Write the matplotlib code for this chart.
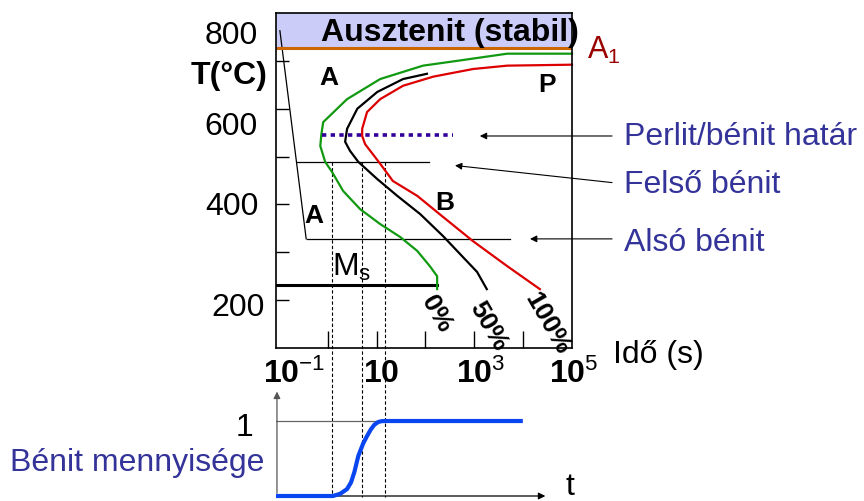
import numpy as np
import matplotlib
matplotlib.use("Agg")
from matplotlib import pyplot as plt
from matplotlib.ticker import NullLocator

plt.rcParams['font.family'] = ['Liberation Sans', 'DejaVu Sans']
plt.rcParams['mathtext.fontset'] = 'custom'
plt.rcParams['mathtext.rm'] = 'Liberation Sans'
plt.rcParams['mathtext.bf'] = 'Liberation Sans:bold'
plt.rcParams['mathtext.it'] = 'Liberation Sans:italic'

# curves: log10(time / s), temperature in C
lt_0 = [5.01, 3.68, 2.65, 1.95, 1.07, 0.39, -0.10, -0.14, -0.16, -0.06, 0.08, 0.31, 0.66, 1.07, 1.48, 1.83, 2.09, 2.24, 2.24]
T_0 = [715, 715, 700, 690, 662, 620, 572, 545, 522, 489, 468, 428, 390, 359, 332, 303, 271, 250, 223]
lt_50 = [2.03, 1.54, 1.01, 0.60, 0.39, 0.35, 0.45, 0.62, 1.01, 1.42, 1.89, 2.36, 2.77, 3.06, 3.26]
T_50 = [673, 662, 635, 600, 558, 531, 512, 489, 453, 418, 380, 334, 290, 259, 223]
lt_100 = [5.01, 3.68, 2.98, 2.16, 1.54, 1.07, 0.80, 0.70, 0.70, 0.76, 1.07, 1.33, 1.83, 2.36, 2.98, 3.68, 4.35]
T_100 = [692, 690, 683, 667, 648, 620, 593, 558, 543, 526, 485, 449, 418, 374, 323, 271, 223]

T_A1 = 726
T_ms = 231
ms_end = 2.24
T_perlit = 545
perlit_lt = [-0.12, 2.57]
T_felso = 489
felso_lt = [-0.64, 2.07]
T_also = 328
also_lt = [-0.43, 3.74]
diag_lt = [-0.99, -0.45]
diag_T = [763, 328]
dash_lt = [0.08, 0.70, 1.17]

# bainite amount vs time (lower panel)
frac_lt = [-1.07, 0.10, 0.25, 0.39, 0.47, 0.54, 0.62, 0.72, 0.80, 0.88, 0.95, 1.03, 1.10, 1.17, 4.00]
frac = [0, 0, 0.03, 0.093, 0.18, 0.32, 0.533, 0.70, 0.80, 0.89, 0.95, 0.987, 0.998, 1.0, 1.0]

W, H = 864, 502
fig = plt.figure(figsize=(W / 100, H / 100), dpi=100)

def ftext(x, y, s, **kw):
    kw.setdefault('ha', 'center')
    kw.setdefault('va', 'center')
    fig.text(x / W, 1 - y / H, s, **kw)

ax = fig.add_axes([276 / W, 1 - 349 / H, 296 / W, 335 / H])
ax.set_xscale('log')
ax.set_xlim(10 ** -1.07, 10 ** 5.01)
ax.set_ylim(100, 800)
for s in ax.spines.values():
    s.set_linewidth(1.2)
    s.set_zorder(6)

ax.axhspan(T_A1, 800, color='#ccccf8', zorder=0)
ax.axhline(T_A1, color='#cc6600', lw=2.2, zorder=3)

p = lambda v: np.power(10.0, np.array(v))
ax.plot(p(lt_0), T_0, color='#119911', lw=1.6, zorder=4, clip_on=False)
ax.plot(p(lt_50), T_50, color='black', lw=1.6, zorder=4)
ax.plot(p(lt_100), T_100, color='#dd0000', lw=1.6, zorder=4, clip_on=False)

ax.plot(p(perlit_lt), [T_perlit] * 2, color='#330099', lw=2.6, dashes=(1.2, 1.2), zorder=5)
ax.plot(p(felso_lt), [T_felso] * 2, color='black', lw=0.9)
ax.plot(p(also_lt), [T_also] * 2, color='black', lw=0.9)
ax.plot(p(diag_lt), diag_T, color='black', lw=0.9)
ax.plot([10 ** -1.07, 10 ** ms_end], [T_ms] * 2, color='black', lw=2.2)

for d in dash_lt:
    ax.plot([10 ** d] * 2, [T_felso, -212], color='black', lw=0.8,
            dashes=(3, 2), clip_on=False, zorder=2)

arr = dict(arrowstyle='-|>', color='black', lw=0.8, mutation_scale=10)
ax.annotate('', xy=(10 ** 3.06, 543), xytext=(10 ** 5.89, 543), arrowprops=arr, annotation_clip=False)
ax.annotate('', xy=(10 ** 2.55, 482), xytext=(10 ** 5.89, 445), arrowprops=arr, annotation_clip=False)
ax.annotate('', xy=(10 ** 4.09, 328), xytext=(10 ** 5.89, 328), arrowprops=arr, annotation_clip=False)

ax.set_yticks([200, 300, 400, 500, 600, 700])
ax.set_yticklabels([])
ax.set_xticks(p([0, 1, 2, 3, 4]))
ax.set_xticklabels([])
ax.xaxis.set_minor_locator(NullLocator())
ax.tick_params(axis='y', direction='in', length=9.5, width=1)
ax.tick_params(axis='x', direction='in', length=12, width=1)

# lower panel
bx = fig.add_axes([276 / W, 2 / H, 296 / W, 110 / H], sharex=ax)
bx.set_ylim(-0.04, 1.427)
bx.axis('off')
bx.plot(p([-1.07, 1.17]), [1, 1], color='#666666', lw=0.9)
bx.plot(p(frac_lt), frac, color='#0a46f0', lw=3, solid_capstyle='butt', zorder=4)
bx.annotate('', xy=(10 ** 4.52, 0), xytext=(10 ** -1.07, 0),
            arrowprops=dict(arrowstyle='-|>', color='black', lw=0.9, mutation_scale=10))
bx.annotate('', xy=(10 ** -1.05, 1.43), xytext=(10 ** -1.05, 0),
            arrowprops=dict(arrowstyle='-|>', color='#555555', lw=0.9, mutation_scale=10),
            annotation_clip=False)

blue = '#333399'
ftext(450, 33, 'Ausztenit (stabil)', fontsize=23, fontweight='bold')
ftext(231, 36, '800', fontsize=23)
ftext(229, 76, 'T(°C)', fontsize=23, fontweight='bold')
ftext(231, 127, '600', fontsize=23)
ftext(232, 207, '400', fontsize=23)
ftext(238, 308, '200', fontsize=23)
ftext(604, 50, r'A$_1$', fontsize=22, color='#990000')
ftext(329, 78, 'A', fontsize=19, fontweight='bold')
ftext(547, 85, 'P', fontsize=19, fontweight='bold')
ftext(445, 203, 'B', fontsize=19, fontweight='bold')
ftext(314, 216, 'A', fontsize=19, fontweight='bold')
ftext(352, 267, r'M$_\mathrm{s}$', fontsize=23)
ftext(437, 314, '0%', fontsize=19, fontweight='bold', rotation=-60)
ftext(488, 326, '50%', fontsize=19, fontweight='bold', rotation=-60)
ftext(547, 324, '100%', fontsize=19, fontweight='bold', rotation=-60)

ftext(294, 374, r'$\mathbf{10}^{-1}$', fontsize=23)
ftext(381, 374, r'$\mathbf{10}$', fontsize=23)
ftext(481, 374, r'$\mathbf{10}^{3}$', fontsize=23)
ftext(574, 374, r'$\mathbf{10}^{5}$', fontsize=23)
ftext(613, 355, 'Idő (s)', fontsize=23, ha='left')

ftext(624, 137, 'Perlit/bénit határ', fontsize=23, color=blue, ha='left')
ftext(624, 185, 'Felső bénit', fontsize=23, color=blue, ha='left')
ftext(624, 243, 'Alsó bénit', fontsize=23, color=blue, ha='left')
ftext(10, 463, 'Bénit mennyisége', fontsize=23, color=blue, ha='left')
ftext(245, 428, '1', fontsize=23)
ftext(570, 487, 't', fontsize=23)

fig.savefig('out.png', dpi=100)
